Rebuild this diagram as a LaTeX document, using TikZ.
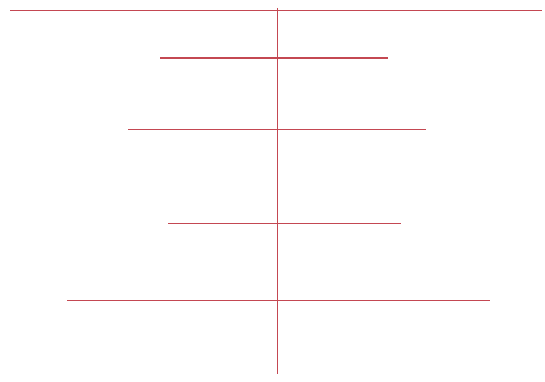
\documentclass[tikz,border=0pt]{standalone}
\definecolor{linered}{RGB}{196,72,82}
\begin{document}
\begin{tikzpicture}[x=1pt,y=-1pt,redline/.style={draw=linered,line width=1.4pt}]
\useasboundingbox[fill=white] (0,0) rectangle (545,382);
\draw[redline] (10,10.5) -- (542,10.5);
\draw[redline] (160,58) -- (388,58);
\draw[redline] (128,129.5) -- (426,129.5);
\draw[redline] (168,223.5) -- (401,223.5);
\draw[redline] (67,300.5) -- (490,300.5);
\draw[redline] (277.5,8) -- (277.5,374);
\end{tikzpicture}
\end{document}
